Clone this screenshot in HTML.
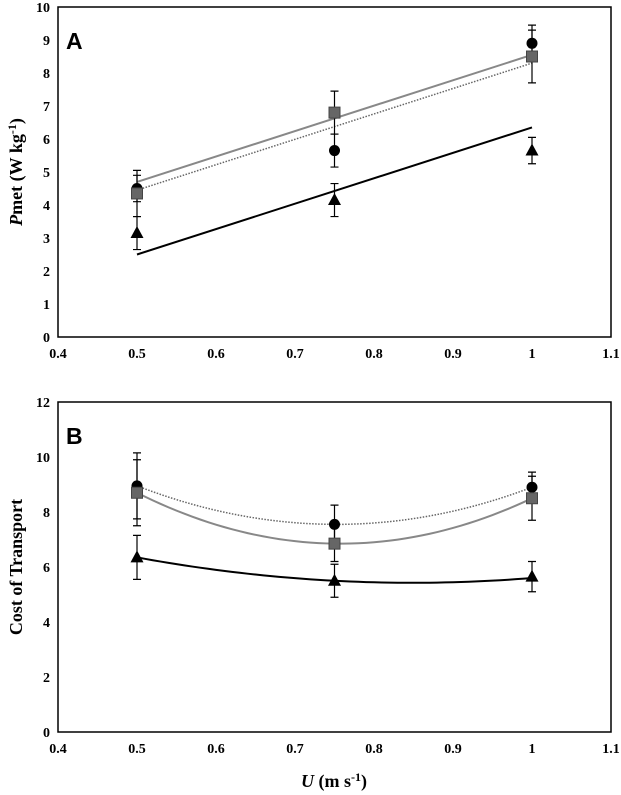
<!DOCTYPE html>
<html><head><meta charset="utf-8"><style>
body{margin:0;background:#fff;}
svg{display:block;font-family:"Liberation Serif",serif;}
.t{font-size:14px;font-weight:bold;fill:#000;}
</style></head><body>
<svg id="c" width="621" height="795" viewBox="0 0 621 795"></svg>
<script>
const xs=[0.5,0.75,1];
const xTicks=[0.4,0.5,0.6,0.7,0.8,0.9,1,1.1];
const xTickLabels=["0.4","0.5","0.6","0.7","0.8","0.9","1","1.1"];
const aTicks=[0,1,2,3,4,5,6,7,8,9,10];
const bTicks=[0,2,4,6,8,10,12];
const aCircle=[4.5,5.65,8.9], aCircleErr=[0.4,0.5,0.55];
const aSquare=[4.35,6.8,8.5], aSquareErr=[0.7,0.65,0.8];
const aTri=[3.15,4.15,5.65], aTriErr=[0.5,0.5,0.4];
const aCircleFit=[4.45,8.3], aSquareFit=[4.7,8.55], aTriFit=[2.5,6.35];
const bCircle=[8.95,7.55,8.9], bCircleErr=[1.2,0.7,0.55];
const bSquare=[8.7,6.85,8.5], bSquareErr=[1.2,0.65,0.8];
const bTri=[6.35,5.5,5.65], bTriErr=[0.8,0.6,0.55];
const bCircleFit=[8.95,7.55,8.9], bSquareFit=[8.7,6.85,8.5], bTriFit=[6.35,5.5,5.6];

const svg=document.getElementById('c');
const NS='http://www.w3.org/2000/svg';
function mk(t,a,txt){const e=document.createElementNS(NS,t);for(const k in a)e.setAttribute(k,a[k]);if(txt!==undefined)e.textContent=txt;svg.appendChild(e);return e;}
const X=v=>58+(v-0.4)/0.7*553;

function panel(top,bottom,ymax,ticks,label,ytitle){
  const Y=v=>bottom-(v/ymax)*(bottom-top);
  const f=mk('rect',{x:58,y:top,width:553,height:bottom-top,fill:'none',stroke:'#000','stroke-width':1.5});
  
  
  ticks.forEach(t=>{const e=mk('text',{x:50,y:Y(t)+5,'text-anchor':'end',class:'t'},String(t));
    });
  xTicks.forEach((t,i)=>{const e=mk('text',{x:X(t),y:bottom+21,'text-anchor':'middle',class:'t'},xTickLabels[i]);
    });
  const l=mk('text',{x:66,y:top+42,style:'font-family:"Liberation Sans",sans-serif;font-size:23px;font-weight:bold'},label);
  
  const cy=(top+bottom)/2;
  const yt=mk('text',{x:22,y:cy,transform:`rotate(-90 22 ${cy})`,'text-anchor':'middle',style:'font-size:18px;font-weight:bold'});
  yt.innerHTML=ytitle;
  
  return Y;
}
function errs(Y,vals,err,name){
  vals.forEach((v,i)=>{const x=X(xs[i]);
    const p=mk('path',{d:`M${x},${Y(v-err[i])}V${Y(v+err[i])}M${x-4},${Y(v-err[i])}h8M${x-4},${Y(v+err[i])}h8`,stroke:'#000','stroke-width':1.2,fill:'none'});
    });
}
function marks(Y,vals,kind,name){
  vals.forEach((v,i)=>{const x=X(xs[i]),y=Y(v);let e;
    if(kind==='c')e=mk('circle',{cx:x,cy:y,r:5.5,fill:'#000'});
    else if(kind==='s')e=mk('rect',{x:x-5.5,y:y-5.5,width:11,height:11,fill:'#666',stroke:'#444','stroke-width':1});
    else e=mk('path',{d:`M${x},${y-7}L${x+6.5},${y+5}L${x-6.5},${y+5}Z`,fill:'#000'});
    });
}
function lin(Y,fit,st,name){
  const e=mk('line',{x1:X(0.5),y1:Y(fit[0]),x2:X(1),y2:Y(fit[1]),...st});
  
}
function quad(Y,fit,st,name){
  let d='';for(let k=0;k<=50;k++){const x=0.5+k/100;
    const L0=(x-0.75)*(x-1)/((0.5-0.75)*(0.5-1)),L1=(x-0.5)*(x-1)/((0.75-0.5)*(0.75-1)),L2=(x-0.5)*(x-0.75)/((1-0.5)*(1-0.75));
    const v=fit[0]*L0+fit[1]*L1+fit[2]*L2;d+=(k?'L':'M')+X(x)+','+Y(v);}
  const e=mk('path',{d,fill:'none',...st});
  
}
const sGrey={stroke:'#888','stroke-width':2};
const sDot={stroke:'#666','stroke-width':1.5,'stroke-dasharray':'1.5,1.5'};
const sBlack={stroke:'#000','stroke-width':2};

const YA=panel(7,337,10,aTicks,'A','<tspan font-style="italic">P</tspan>met (W kg<tspan dy="-6" font-size="12">-1</tspan><tspan dy="6">)</tspan>');
lin(YA,aSquareFit,sGrey,'square-fit-line');lin(YA,aCircleFit,sDot,'circle-fit-line');lin(YA,aTriFit,sBlack,'triangle-fit-line');
errs(YA,aCircle,aCircleErr,'circle');errs(YA,aSquare,aSquareErr,'square');errs(YA,aTri,aTriErr,'triangle');
marks(YA,aCircle,'c','circle');marks(YA,aSquare,'s','square');marks(YA,aTri,'t','triangle');

const YB=panel(402,732,12,bTicks,'B','Cost of Transport');
quad(YB,bSquareFit,sGrey,'square-fit-curve');quad(YB,bCircleFit,sDot,'circle-fit-curve');quad(YB,bTriFit,sBlack,'triangle-fit-curve');
errs(YB,bCircle,bCircleErr,'circle');errs(YB,bSquare,bSquareErr,'square');errs(YB,bTri,bTriErr,'triangle');
marks(YB,bCircle,'c','circle');marks(YB,bSquare,'s','square');marks(YB,bTri,'t','triangle');

const xt=mk('text',{x:334,y:787,'text-anchor':'middle',style:'font-size:18px;font-weight:bold'});
xt.innerHTML='<tspan font-style="italic">U</tspan> (m s<tspan dy="-6" font-size="12">-1</tspan><tspan dy="6">)</tspan>';


</script>
</body></html>
